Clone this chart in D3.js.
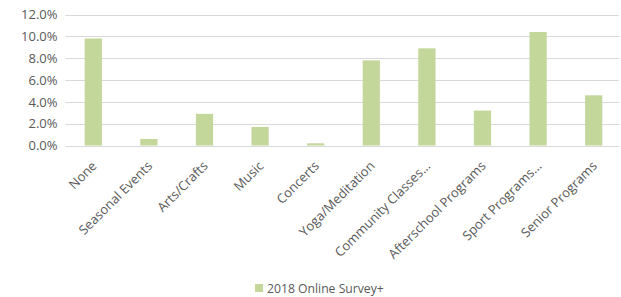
<!DOCTYPE html>
<html lang="en">
  <head>
    <meta charset="UTF-8" />
    <title>Chart</title>
    <style>
      body { margin: 0; background: #fff; }
      text { font-family: "Open Sans", sans-serif; fill: #595959; }
    </style>
  </head>
  <body>
    <svg id="chart-d3"></svg>
  </body>
</html>

<script src="https://cdnjs.cloudflare.com/ajax/libs/d3/7.0.1/d3.min.js"></script>

<script>
  // 類別與數值.
  const categories = [
    "None",
    "Seasonal Events",
    "Arts/Crafts",
    "Music",
    "Concerts",
    "Yoga/Meditation",
    "Community Classes...",
    "Afterschool Programs",
    "Sport Programs...",
    "Senior Programs",
  ];
  const values = [0.098, 0.006, 0.029, 0.017, 0.002, 0.078, 0.089, 0.032, 0.104, 0.046];
  const yTicks = [0, 0.02, 0.04, 0.06, 0.08, 0.1, 0.12];
  const seriesName = "2018 Online Survey+";

  function getChart({ width = 621, height = 297 }) {
    const chart = d3.select("#chart-d3").attr("width", width).attr("height", height);
    const margin = { left: 65.5, top: 14.5, right: -0.5, bottom: 151.5 };

    const x = d3
      .scaleBand()
      .domain(categories)
      .range([margin.left, width - margin.right])
      .paddingInner(0.69)
      .paddingOuter(0.345);

    const y = d3
      .scaleLinear()
      .domain([0, 0.12])
      .range([height - margin.bottom, margin.top]);

    // 格線.
    chart
      .append("g")
      .selectAll("line")
      .data(yTicks)
      .join("line")
      .attr("x1", margin.left)
      .attr("x2", width - 2)
      .attr("y1", (d) => Math.round(y(d)) + 0.5)
      .attr("y2", (d) => Math.round(y(d)) + 0.5)
      .attr("stroke", "#d9d9d9")
      .attr("stroke-width", 1);

    // y 軸標籤.
    const yAxis = d3.axisLeft(y).tickValues(yTicks).tickFormat(d3.format(".1%")).tickSize(0).tickPadding(8);
    chart
      .append("g")
      .attr("transform", `translate(${margin.left}, 0)`)
      .call(yAxis)
      .call((g) => g.select(".domain").remove())
      .selectAll("text")
      .style("font-size", "13px")
      .style("font-family", '"Open Sans", sans-serif')
      .attr("fill", "#595959");

    // 長條.
    chart
      .append("g")
      .selectAll("rect")
      .data(values)
      .join("rect")
      .attr("x", (d, i) => x(categories[i]))
      .attr("y", (d) => y(d))
      .attr("width", x.bandwidth())
      .attr("height", (d) => y(0) - y(d))
      .attr("fill", "#c4d79b");

    // x 軸標籤, 旋轉 -45 度.
    const axisY = y(0);
    chart
      .append("g")
      .selectAll("text")
      .data(categories)
      .join("text")
      .attr("transform", (d) => `translate(${x(d) + x.bandwidth() / 2 + 1}, ${axisY + 18}) rotate(-45)`)
      .attr("text-anchor", "end")
      .attr("dy", "0.35em")
      .style("font-size", "13px")
      .text((d) => d);

    // 圖例.
    const legend = chart.append("g").attr("transform", `translate(255, 284)`);
    legend.append("rect").attr("width", 8).attr("height", 8).attr("fill", "#c4d79b");
    legend
      .append("text")
      .attr("x", 12)
      .attr("y", 8.5)
      .style("font-size", "12.2px")
      .text(seriesName);
  }

  getChart({});
</script>
